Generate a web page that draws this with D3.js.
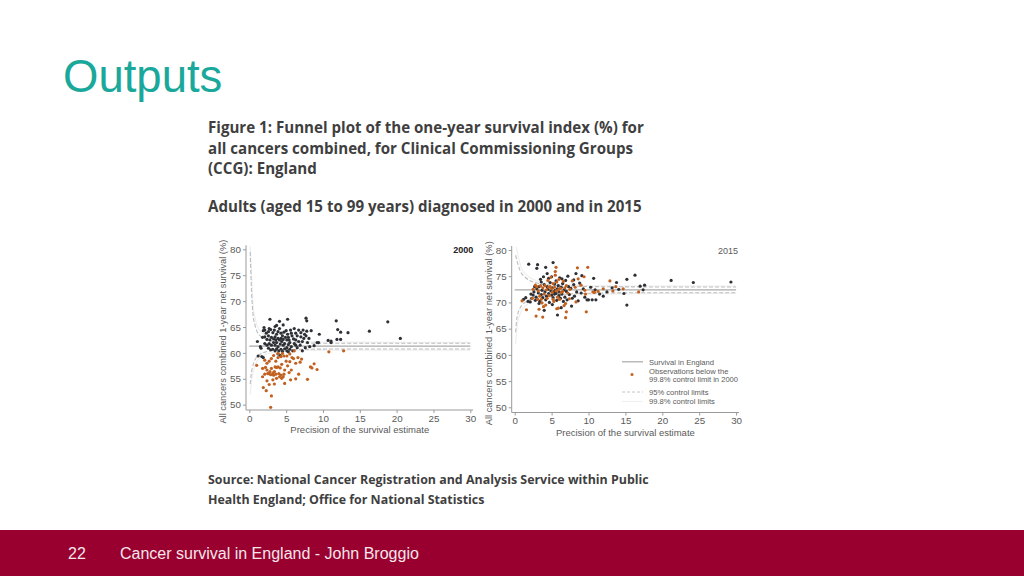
<!DOCTYPE html>
<html><head><meta charset="utf-8">
<script src="https://cdn.jsdelivr.net/npm/d3@7"></script>
<style>
html,body{margin:0;padding:0;background:#fff;}
svg{display:block;}
</style></head>
<body>
<svg id="c" width="1024" height="576"></svg>
<script>
// ---------------- data ----------------
const xTicks = [0,5,10,15,20,25,30];
const yTicks = [50,55,60,65,70,75,80];
const panelYears = ["2000","2015"];
const englandSurvival = [61.3, 72.4];

// control limits (precision -> survival %)
const limitPrecision = [0.12,0.3,0.5,0.75,1,1.5,2,3,5,8,12,20,30];
const upper95_2000 = [79.5,72.0,67.5,65.5,64.3,63.3,62.8,62.3,62.0,61.9,61.85,61.85,61.85];
const lower95_2000 = [54.0,56.3,57.6,58.6,59.2,59.8,60.1,60.4,60.6,60.7,60.75,60.75,60.75];
const upper998_2000 = [81.0,75.0,69.5,67.0,65.5,64.2,63.5,62.9,62.4,62.2,62.1,62.05,62.05];
const lower998_2000 = [52.0,54.5,56.2,57.5,58.3,59.1,59.6,60.0,60.3,60.5,60.55,60.55,60.55];
const upper95_2015 = [79.0,78.0,77.0,76.0,75.4,74.7,74.2,73.7,73.3,73.1,73.0,72.95,72.95];
const lower95_2015 = [64.3,67.0,68.2,69.0,69.5,70.1,70.5,71.0,71.4,71.65,71.8,71.85,71.85];
const upper998_2015 = [81.0,80.0,78.6,77.3,76.3,75.4,74.8,74.1,73.6,73.3,73.15,73.1,73.1];
const lower998_2015 = [62.0,65.0,66.8,67.9,68.6,69.4,69.9,70.5,71.0,71.4,71.6,71.7,71.7];

// CCG observations [precision, survival]
const dark2000 = [[2.8,66.5],[4.1,66.1],[5.2,66.5],[2.0,64.9],[2.1,64.4],[2.7,64.7],[3.5,65.1],[3.7,65.3],[4.6,65.4],[6.1,64.7],[7.7,66.7],[7.8,66.2],[7.3,64.4],[8.4,64.3],[7.8,64.2],[11.8,66.2],[12.0,64.5],[12.4,64.0],[13.4,63.9],[16.3,64.2],[18.8,66.0],[20.5,62.8],[12.4,62.6],[11.9,62.6],[9.5,63.6],[10.7,62.4],[11.1,62.0],[11.1,62.3],[9.2,62.0],[9.4,62.0],[8.8,61.4],[8.1,62.8],[7.5,63.6],[7.0,63.1],[6.7,62.2],[6.3,61.5],
[1.1,62.2],[1.5,61.2],[1.6,60.9],[1.7,59.3],[1.9,59.1],[1.8,63.0],[2.1,63.1],[2.4,62.6],[2.6,63.3],[2.8,62.5],[3.0,63.0],[3.3,62.7],[3.5,63.1],[3.7,63.6],[3.9,64.1],[4.1,64.7],[4.3,63.8],[4.5,63.3],[4.7,64.0],[5.0,64.3],[5.2,63.6],[5.3,63.0],[5.6,64.4],[5.8,63.3],[6.0,62.7],
[2.1,61.8],[2.4,61.5],[2.7,61.8],[3.0,61.5],[3.3,62.0],[3.5,61.5],[3.7,62.0],[3.9,61.2],[4.2,61.7],[4.4,62.2],[4.6,61.5],[4.8,61.8],[5.1,61.0],[5.3,61.6],[5.5,62.0],[5.7,61.2],[6.1,61.8],[6.3,62.5],[6.5,61.0],[6.9,61.5],[7.2,62.2],
[2.6,60.9],[2.9,60.6],[3.2,60.7],[3.5,60.4],[3.7,60.8],[4.0,60.4],[4.3,60.7],[4.5,60.3],[4.8,60.8],[5.1,60.4],[5.3,60.2],[5.5,60.7],[5.9,60.4],[3.9,59.8],[4.2,59.5],[1.2,59.4],
[1.9,64.3],[2.3,63.8],[2.6,64.1],[2.9,64.5],[3.2,63.9],[3.4,64.4],[3.6,62.5],[3.9,62.8],[4.1,62.5],[4.3,62.8],[4.6,62.6],[4.9,63.0],[5.1,62.5],[5.4,62.5],[5.7,63.8],[6.3,63.8],[6.5,63.3],[6.7,64.4],[7.0,63.9],[7.4,62.8],[7.7,63.3],[7.9,62.0],[8.2,61.2],[7.6,61.0],[7.2,60.4]];
const orange2000 = [[1.0,57.6],[1.8,55.4],[1.9,53.3],[2.3,52.7],[2.4,54.6],[2.7,53.9],[3.0,51.7],[2.9,49.5],[3.4,54.0],[2.6,56.0],[2.4,56.7],[2.8,56.4],[3.3,55.7],[3.5,57.3],[3.7,57.2],[3.9,57.3],[4.2,57.1],[4.1,55.4],[4.4,55.1],[4.6,55.4],[4.8,54.1],[5.4,56.2],[5.6,54.8],[6.3,55.0],[6.7,55.9],[7.9,54.9],[8.3,57.3],[8.5,57.1],[8.8,57.9],[9.2,56.8],[10.8,60.2],[12.8,60.4],[5.8,59.1],[6.0,58.9],[6.1,60.4],[4.5,59.9],[5.0,58.4],[5.2,57.5],[2.7,58.4],[2.4,58.0],[2.1,55.9],[3.2,54.8],[3.9,59.1],[4.3,59.3],[3.6,58.4],[3.9,59.9],[4.8,56.7],[3.7,55.1],[3.4,56.4],[3.0,57.0],[5.5,58.3],[6.3,58.0],[5.7,56.7],[6.9,58.2],[5.1,59.4],[4.4,57.8],
[2.5,56.0],[2.9,55.8],[3.2,56.1],[3.6,55.9],[4.0,56.0],[4.3,55.7],[4.7,55.9],[2.2,57.2],[3.0,58.9],[3.3,59.5],[4.7,59.4],[5.5,59.8],[6.6,59.1],[7.1,58.8],[2.1,58.6],[1.8,57.0]];
const dark2015 = [[1.2,70.6],[1.5,70.9],[2.1,70.1],[2.3,70.8],[2.5,71.4],[2.6,72.0],[2.8,70.4],[2.9,71.0],[3.0,76.5],[3.1,77.2],[3.0,72.6],[3.2,71.8],[3.3,73.0],[3.4,70.2],[3.5,74.4],[3.6,73.9],[3.6,71.5],[3.7,72.3],[3.8,70.9],[3.9,74.9],[4.0,73.4],[4.1,72.0],[4.2,76.7],[4.2,70.5],[4.3,71.2],[4.4,73.0],[4.5,72.5],[4.6,74.6],[4.6,71.7],[4.7,70.0],[4.8,73.8],[4.9,72.2],[5.0,71.4],[5.0,74.9],[5.1,72.8],[5.2,77.6],[5.2,70.9],[5.3,72.0],[5.4,73.5],[5.4,71.6],[5.5,71.9],[5.5,72.3],[5.6,71.7],[5.6,74.1],[5.7,70.4],[5.8,72.6],[5.8,67.6],[5.9,73.2],[6.0,71.3],[6.0,72.0],[6.1,74.7],[6.2,70.8],[6.3,72.9],[6.4,71.6],[6.5,73.6],[6.6,70.2],[6.7,72.4],[6.8,71.0],[6.9,74.2],[7.0,72.1],[7.1,70.5],[7.3,73.0],[7.4,71.5],[7.6,72.7],[7.8,70.8],[8.0,73.4],[8.1,71.2],[8.3,75.5],[8.4,72.0],[8.6,70.3],[8.8,73.7],[9.0,71.8],[9.3,72.6],[9.5,71.0],[9.8,70.5],[10.0,70.5],[10.3,72.9],[10.5,70.5],[10.7,74.6],[10.9,72.4],[11.0,70.5],[11.5,71.6],[12.0,71.2],[13.8,73.8],[14.1,72.5],[14.8,71.7],[15.2,74.4],[15.2,69.5],[16.3,75.2],[17.0,73.1],[17.4,72.4],[17.6,73.3],[21.2,74.2],[24.2,73.8],[29.3,73.9],[1.9,77.3],[6.4,74.5],[7.2,75.0],[4.4,75.5],[2.7,73.0],[2.2,71.6],[1.8,70.2],[3.3,69.8],[5.1,69.6],[6.3,69.0],[7.7,69.3],[4.0,68.5],[8.0,74.3],[9.1,75.1],[12.5,72.0],[13.2,72.8]];
const orange2015 = [[1.0,70.3],[1.6,68.6],[2.9,67.4],[3.8,67.2],[6.9,67.1],[7.0,68.2],[5.7,68.8],[3.3,68.7],[3.9,69.2],[9.7,68.2],[9.9,76.7],[5.6,76.7],[5.5,75.9],[12.9,74.1],[13.7,73.0],[14.7,72.6],[16.8,72.0],[11.3,72.1],[8.5,76.6],
[2.5,72.5],[2.8,73.3],[3.0,73.0],[3.2,72.2],[3.4,71.2],[3.5,73.2],[3.6,70.6],[3.7,69.9],[3.8,72.8],[4.0,71.6],[4.1,73.2],[4.3,72.4],[4.4,70.8],[4.5,74.2],[4.6,72.9],[4.7,71.3],[4.8,73.0],[4.9,74.8],[5.0,72.6],[5.1,71.9],[5.2,73.6],[5.3,70.2],[5.4,72.9],[5.5,75.2],[5.6,72.2],[5.7,73.9],[5.8,71.0],[5.9,72.4],[6.0,74.4],[6.1,70.6],[6.2,72.7],[6.3,71.9],[6.5,72.1],[6.6,74.0],[6.8,72.8],[6.9,69.8],[7.0,73.2],[7.2,71.8],[7.5,72.5],[7.8,74.1],[8.2,72.9],[8.6,74.5],[9.0,73.3],[9.4,74.9],[9.6,71.6],[9.5,72.3],[10.8,71.9],[12.0,72.6],[13.3,72.2],[5.2,70.6],[4.2,69.5],[3.1,70.6],[2.4,70.8],[6.7,69.4],[5.9,68.9],[7.4,70.7],[8.3,70.1],[10.6,72.0]];

const slideTitle = "Outputs";
const figTitle = ["Figure 1: Funnel plot of the one-year survival index (%) for","all cancers combined, for Clinical Commissioning Groups","(CCG): England"];
const figSubtitle = "Adults (aged 15 to 99 years) diagnosed in 2000 and in 2015";
const sourceLines = ["Source: National Cancer Registration and Analysis Service within Public","Health England; Office for National Statistics"];
const yLabel = "All cancers combined 1-year net survival (%)";
const xLabel = "Precision of the survival estimate";
const legendItems = ["Survival in England","Observations below the","99.8% control limit in 2000","95% control limits","99.8% control limits"];
const footerNum = "22";
const footerText = "Cancer survival in England - John Broggio";

// ---------------- drawing ----------------
const svg = d3.select("#c");
const DARK = "#2e3036", ORANGE = "#c2611f", AXIS = "#9a9a9a", TXT = "#5a5a5a";
const tickFont = "Liberation Sans, Arial, sans-serif";

svg.append("text").attr("x",63).attr("y",92).text(slideTitle)
  .attr("font-family","Liberation Sans, Arial, sans-serif").attr("font-size",45.5).attr("fill","#1aa89b");

function fitText(t, w){
  const cur = t.node().getComputedTextLength();
  const fs = parseFloat(t.attr("font-size"));
  t.attr("font-size", (fs*w/cur).toFixed(2));
}
const titleFont = "Open Sans, Noto Sans, sans-serif";
const tl = [133,153.5,174];
const titleTexts = figTitle.map((s,i)=> svg.append("text").attr("x",208).attr("y",tl[i]).text(s)
   .attr("font-family",titleFont).attr("font-weight",700).attr("font-size",15).attr("fill","#3f3f3f"));
fitText(titleTexts[0], 436);
const tfs = titleTexts[0].attr("font-size");
titleTexts.forEach(t=>t.attr("font-size",tfs));
svg.append("text").attr("x",208).attr("y",212).text(figSubtitle)
  .attr("font-family",titleFont).attr("font-weight",700).attr("font-size",tfs).attr("fill","#3f3f3f");
const srcT = sourceLines.map((s,i)=> svg.append("text").attr("x",208).attr("y",[483.5,504][i]).text(s)
   .attr("font-family",titleFont).attr("font-weight",700).attr("font-size",13).attr("fill","#3f3f3f"));
fitText(srcT[0], 441);
srcT[1].attr("font-size", srcT[0].attr("font-size"));

// panels
const panels = [
  {year:panelYears[0], eng:englandSurvival[0], x0:249.3, x1:470.3, yTop:249.3, yBot:404.7, axX:246, axY:410, axRight:473, yLabX:223,
   dark:dark2000, orange:orange2000, u95:upper95_2000, l95:lower95_2000, u998:upper998_2000, l998:lower998_2000, bold:true, legend:false},
  {year:panelYears[1], eng:englandSurvival[1], x0:514.7, x1:736.1, yTop:250, yBot:407.3, axX:511.7, axY:412.5, axRight:739, yLabX:488.5,
   dark:dark2015, orange:orange2015, u95:upper95_2015, l95:lower95_2015, u998:upper998_2015, l998:lower998_2015, bold:false, legend:true}
];

panels.forEach(p=>{
  const g = svg.append("g");
  const x = d3.scaleLinear().domain([0,30]).range([p.x0,p.x1]);
  const y = d3.scaleLinear().domain([50,80]).range([p.yBot,p.yTop]);
  const clipId = "clip"+p.year;
  svg.append("clipPath").attr("id",clipId).append("rect")
    .attr("x",p.axX+1).attr("y",p.yTop-3).attr("width",p.x1-p.axX+2).attr("height",p.axY-p.yTop+2);
  const pg = g.append("g").attr("clip-path",`url(#${clipId})`);

  const line = (arr)=> d3.line().curve(d3.curveMonotoneX).x((d,i)=>x(limitPrecision[i])).y(d=>y(d))(arr);
  // 99.8% limits (very light)
  [p.u998,p.l998].forEach(a=> pg.append("path").attr("d",line(a)).attr("fill","none")
     .attr("stroke","#efefef").attr("stroke-width",1.2));
  // 95% limits dashed
  [p.u95,p.l95].forEach(a=> pg.append("path").attr("d",line(a)).attr("fill","none")
     .attr("stroke","#bdbdbd").attr("stroke-width",1.1).attr("stroke-dasharray","4,2"));
  // England line
  pg.append("line").attr("x1",x(0)).attr("x2",x(30)).attr("y1",y(p.eng)).attr("y2",y(p.eng))
    .attr("stroke","#a9a9a9").attr("stroke-width",1.3);

  pg.selectAll(".dk").data(p.dark).enter().append("circle")
    .attr("cx",d=>x(d[0])).attr("cy",d=>y(d[1])).attr("r",1.6).attr("fill",DARK);
  pg.selectAll(".or").data(p.orange).enter().append("circle")
    .attr("cx",d=>x(d[0])).attr("cy",d=>y(d[1])).attr("r",1.6).attr("fill",ORANGE);

  // axes
  const ax = d3.axisBottom(x).tickValues(xTicks).tickSize(3).tickPadding(2);
  const xg = g.append("g").attr("transform",`translate(0,${p.axY})`).call(ax);
  xg.select(".domain").remove();
  g.append("line").attr("x1",p.axX).attr("x2",p.axRight).attr("y1",p.axY).attr("y2",p.axY).attr("stroke",AXIS);
  const ay = d3.axisLeft(y).tickValues(yTicks).tickSize(3).tickPadding(2);
  const yg = g.append("g").attr("transform",`translate(${p.axX},0)`).call(ay);
  yg.select(".domain").remove();
  g.append("line").attr("x1",p.axX).attr("x2",p.axX).attr("y1",p.yTop-4).attr("y2",p.axY).attr("stroke",AXIS);
  [xg,yg].forEach(s=>{
    s.selectAll("line").attr("stroke",AXIS);
    s.selectAll("text").attr("font-family",tickFont).attr("font-size",9.8).attr("fill",TXT);
  });

  g.append("text").attr("transform",`translate(${p.yLabX},${(p.yTop+p.axY)/2+2}) rotate(-90)`)
    .attr("text-anchor","middle").attr("dy","0.35em").text(yLabel)
    .attr("font-family",tickFont).attr("font-size",9.3).attr("fill",TXT);
  g.append("text").attr("x",(p.x0+p.x1)/2).attr("y",p.axY+23).attr("text-anchor","middle").text(xLabel)
    .attr("font-family",tickFont).attr("font-size",9.5).attr("fill",TXT);
  g.append("text").attr("x",p.x1+ (p.bold?3:2)).attr("y",p.yTop+3.5).attr("text-anchor","end").text(p.year)
    .attr("font-family",tickFont).attr("font-size",9).attr("font-weight",p.bold?700:400).attr("fill",p.bold?"#222":TXT);

  if(p.legend){
    const lx0=622, lx1=643, tx=649, lf=7.6;
    const lg = g.append("g").attr("font-family",tickFont).attr("font-size",lf).attr("fill",TXT);
    lg.append("line").attr("x1",lx0).attr("x2",lx1).attr("y1",361.8).attr("y2",361.8).attr("stroke","#a9a9a9").attr("stroke-width",1.2);
    lg.append("text").attr("x",tx).attr("y",364.5).text(legendItems[0]);
    lg.append("circle").attr("cx",632).attr("cy",374.5).attr("r",1.5).attr("fill",ORANGE);
    lg.append("text").attr("x",tx).attr("y",373.5).text(legendItems[1]);
    lg.append("text").attr("x",tx).attr("y",382).text(legendItems[2]);
    lg.append("line").attr("x1",lx0).attr("x2",lx1).attr("y1",392).attr("y2",392).attr("stroke","#c4c4c4").attr("stroke-dasharray","3,2");
    lg.append("text").attr("x",tx).attr("y",394.6).text(legendItems[3]);
    lg.append("line").attr("x1",lx0).attr("x2",lx1).attr("y1",401.5).attr("y2",401.5).attr("stroke","#f0f0f0").attr("stroke-width",1.2);
    lg.append("text").attr("x",tx).attr("y",404.2).text(legendItems[4]);
  }
});

// footer
svg.append("rect").attr("x",0).attr("y",530).attr("width",1024).attr("height",46).attr("fill","#990030");
svg.append("text").attr("x",68).attr("y",559).text(footerNum)
  .attr("font-family","Liberation Sans, Arial, sans-serif").attr("font-size",16).attr("fill","#f4e6ea");
svg.append("text").attr("x",120).attr("y",559).text(footerText)
  .attr("font-family","Liberation Sans, Arial, sans-serif").attr("font-size",16).attr("fill","#f4e6ea");
</script>
</body></html>
